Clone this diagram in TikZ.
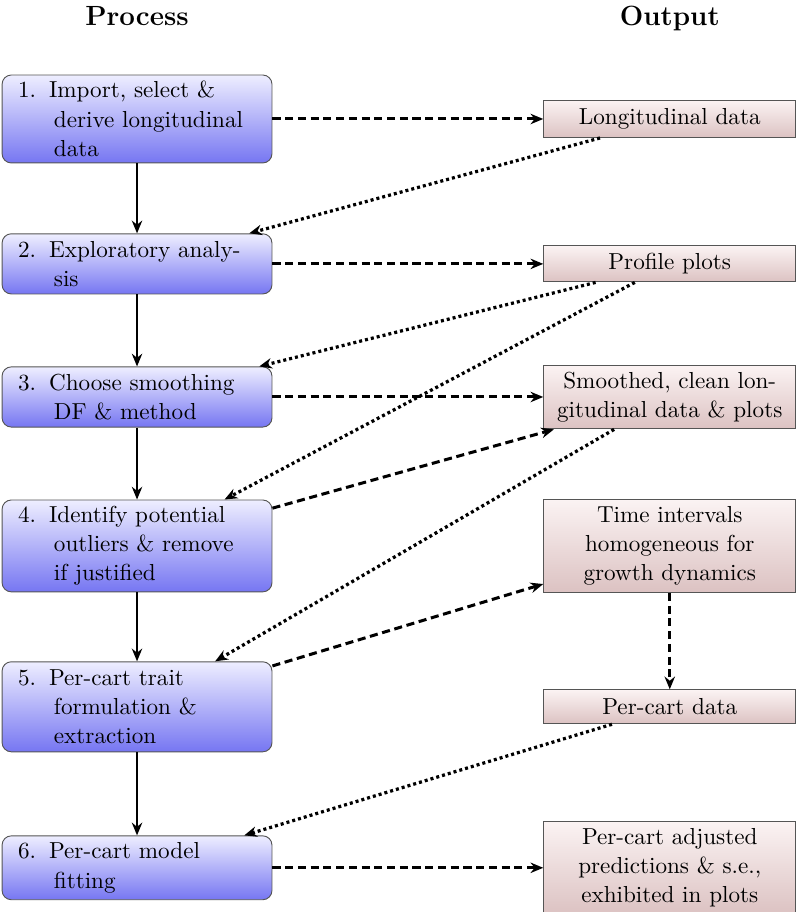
\documentclass[tikz,border=0pt]{standalone}
\usepackage{xcolor}
\usepackage{tikz}
\usetikzlibrary{arrows.meta,positioning}
\definecolor{proctop}{HTML}{EEEEFF}
\definecolor{procbot}{HTML}{7676F2}
\definecolor{outtop}{HTML}{FBF3F3}
\definecolor{outbot}{HTML}{DCC2C2}
\definecolor{edge}{HTML}{555555}
\newcommand{\stepno}[1]{\makebox[13.4pt][l]{#1}}
\newcommand{\stepin}{\hspace*{15.5pt}}

\begin{document}
\begin{tikzpicture}[font=\fontsize{10pt}{12.6pt}\selectfont,
  proc/.style={draw=edge,top color=proctop,bottom color=procbot,rounded corners=4pt,text width=102.8pt,align=left,inner xsep=6.9pt,inner ysep=2pt},
  outp/.style={draw=edge,top color=outtop,bottom color=outbot,minimum width=108.9pt,align=center,inner ysep=2pt},
  head/.style={font=\large\bfseries,anchor=base},
  ar/.style={-{Stealth[length=5.5pt,width=4.5pt]},thick},
  yield/.style={ar,line width=1.3pt,dash pattern=on 3.5pt off 2pt},
  reuse/.style={ar,line width=1.4pt,dash pattern=on 1.3pt off 1.3pt}]
\useasboundingbox (0,0) rectangle (344.3pt,-394pt);
\node[proc,minimum height=38pt] (p1) at (59.2pt,-51.4pt) {\stepno{1.}Import, select \&\\\stepin derive longitudinal\\\stepin data};
\node[proc,minimum height=26pt,below=30.2pt of p1] (p2) {\stepno{2.}Exploratory analy-\\\stepin sis};
\node[proc,minimum height=26pt,below=31.1pt of p2] (p3) {\stepno{3.}Choose smoothing\\\stepin DF \& method};
\node[proc,minimum height=39.7pt,below=31.1pt of p3] (p4) {\stepno{4.}Identify potential\\\stepin outliers \& remove\\\stepin if justified};
\node[proc,minimum height=38.9pt,below=29.8pt of p4] (p5) {\stepno{5.}Per-cart trait\\\stepin formulation \&\\\stepin extraction};
\node[proc,minimum height=27.6pt,below=35.9pt of p5] (p6) {\stepno{6.}Per-cart model\\\stepin fitting};
\node[outp,minimum height=16pt,right=117pt of p1] (o1) {Longitudinal data};
\node[outp,minimum height=15.6pt,right=117pt of p2] (o2) {Profile plots};
\node[outp,minimum height=27.6pt,right=117pt of p3] (o3) {Smoothed, clean lon-\\gitudinal data \& plots};
\node[outp,minimum height=40.2pt,right=117pt of p4] (o4) {Time intervals\\homogeneous for\\growth dynamics};
\node[outp,minimum height=14.7pt,right=117pt of p5] (o5) {Per-cart data};
\node[outp,minimum height=40.2pt,right=117pt of p6] (o6) {Per-cart adjusted\\predictions \& s.e.,\\exhibited in plots};
\node[head] (hproc) at ([yshift=21.2pt]p1.north) {Process};
\node[head] (hout) at (hproc.base -| o1) {Output};
\draw[ar] (p1) -- (p2);
\draw[ar] (p2) -- (p3);
\draw[ar] (p3) -- (p4);
\draw[ar] (p4) -- (p5);
\draw[ar] (p5) -- (p6);
\draw[yield] (p1) -- (o1);
\draw[yield] (p2) -- (o2);
\draw[yield] (p3) -- (o3);
\draw[yield] (p4) -- (o3);
\draw[yield] (p5) -- (o4);
\draw[yield] (o4) -- (o5);
\draw[yield] (p6) -- (o6);
\draw[reuse] (o1) -- (p2);
\draw[reuse] (o2) -- (p3);
\draw[reuse] (o2) -- (p4);
\draw[reuse] (o3) -- (p5);
\draw[reuse] (o5) -- (p6);
\end{tikzpicture}
\end{document}
